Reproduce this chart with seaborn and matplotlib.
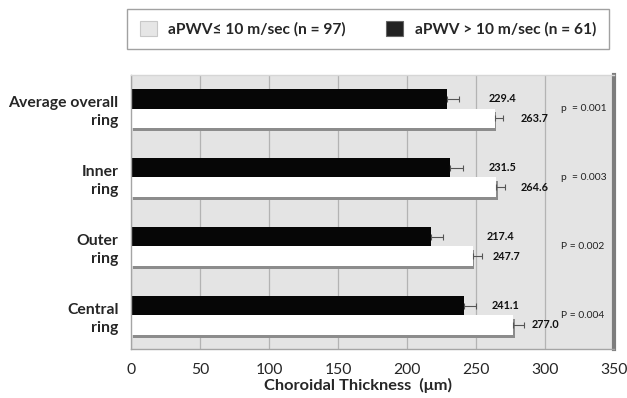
import matplotlib
matplotlib.use("Agg")
import matplotlib.pyplot as plt
import matplotlib.patheffects as pe
from matplotlib.patches import Patch
import pandas as pd
import seaborn as sns

# Choroidal thickness by ring, split by aortic pulse wave velocity
regions = ["Average overall\nring", "Inner\nring", "Outer\nring", "Central\nring"]
high_pwv = [229.4, 231.5, 217.4, 241.1]
low_pwv = [263.7, 264.6, 247.7, 277.0]
high_err = [8.0, 8.9, 8.4, 9.1]
low_err = [5.8, 6.5, 6.5, 7.7]
p_values = ["p  = 0.001", "p  = 0.003", "P = 0.002", "P = 0.004"]
group_low = "aPWV≤ 10 m/sec (n = 97)"
group_high = "aPWV > 10 m/sec (n = 61)"
x_ticks = [0, 50, 100, 150, 200, 250, 300, 350]

# horizontal gap (data units) between error cap and value label
high_gap = [22, 19, 32, 11]
low_gap = [13, 11.5, 8, 5.6]

df = pd.DataFrame({
    "region": regions * 2,
    "thickness": high_pwv + low_pwv,
    "group": [group_high] * len(regions) + [group_low] * len(regions),
})

sns.set_theme(style="white")
plt.rcParams["font.family"] = ["Lato", "DejaVu Sans"]

fig = plt.figure(figsize=(6.27, 3.98), dpi=100)
ax = fig.add_axes([0.209, 0.123, 0.770, 0.689])
ax.set_facecolor("#e4e4e4")
ax.set_axisbelow(True)
ax.grid(axis="x", color="#b3b3b3", linewidth=0.9)

sns.barplot(
    data=df, y="region", x="thickness", hue="group",
    order=regions, hue_order=[group_high, group_low],
    palette={group_high: "#060606", group_low: "#ffffff"},
    width=0.56, errorbar=None, orient="h", legend=False, ax=ax,
    linewidth=0,
)

high_bars, low_bars = ax.containers[0], ax.containers[1]

# bevel-like shadow under the white bars
for bar in low_bars:
    bar.set_path_effects([
        pe.SimplePatchShadow(offset=(1.2, -2.5), shadow_rgbFace="#8c8c8c", alpha=1.0),
        pe.Normal(),
    ])

for bars, vals, errs, gaps in [
    (high_bars, high_pwv, high_err, high_gap),
    (low_bars, low_pwv, low_err, low_gap),
]:
    centers = [b.get_y() + b.get_height() / 2 for b in bars]
    ax.errorbar(vals, centers, xerr=[[0] * len(errs), errs], fmt="none",
                ecolor="#555555", elinewidth=0.8, capsize=2.2, capthick=0.8,
                zorder=4)
    for v, e, g, c in zip(vals, errs, gaps, centers):
        ax.text(v + e + g, c, f"{v:.1f}", fontsize=7.8, fontweight="bold",
                va="center", ha="left", color="#111111")

for i, p in enumerate(p_values):
    ax.text(312, i, p, fontsize=7.4, va="center", ha="left", color="#222222")

ax.set_xlim(0, 350)
ax.set_ylim(3.49, -0.49)
ax.set_xticks(x_ticks)
ax.tick_params(axis="x", labelsize=11.3, pad=10, length=0)
ax.tick_params(axis="y", labelsize=11.3, pad=9, length=0)
for lbl in ax.get_yticklabels():
    lbl.set_fontweight("bold")
    lbl.set_horizontalalignment("right")
    lbl.set_linespacing(1.35)
ax.set_ylabel("")
ax.set_xlabel("Choroidal Thickness  (μm)", fontsize=11.8, fontweight="bold",
              labelpad=1, x=0.47)

for side, col, lw in [("right", "#7d7d7d", 3.0), ("top", "#d6d6d6", 1.0),
                      ("left", "#a5a5a5", 1.0), ("bottom", "#a5a5a5", 1.0)]:
    ax.spines[side].set_visible(True)
    ax.spines[side].set_color(col)
    ax.spines[side].set_linewidth(lw)

handles = [
    Patch(facecolor="#e6e6e6", edgecolor="#c8c8c8", linewidth=0.8),
    Patch(facecolor="#222222", edgecolor="#666666", linewidth=0.8),
]
leg = fig.legend(
    handles, [group_low, group_high], ncol=2, loc="center",
    bbox_to_anchor=(368 / 627, 1 - 29 / 398),
    frameon=True, fancybox=False, edgecolor="#8a8a8a",
    handlelength=1.1, handleheight=1.1, handletextpad=0.75,
    columnspacing=2.6, borderpad=0.8,
    prop={"weight": "bold", "size": 11.2},
)
leg.get_frame().set_linewidth(1.0)

fig.savefig("out.png", dpi=100, facecolor="white")
